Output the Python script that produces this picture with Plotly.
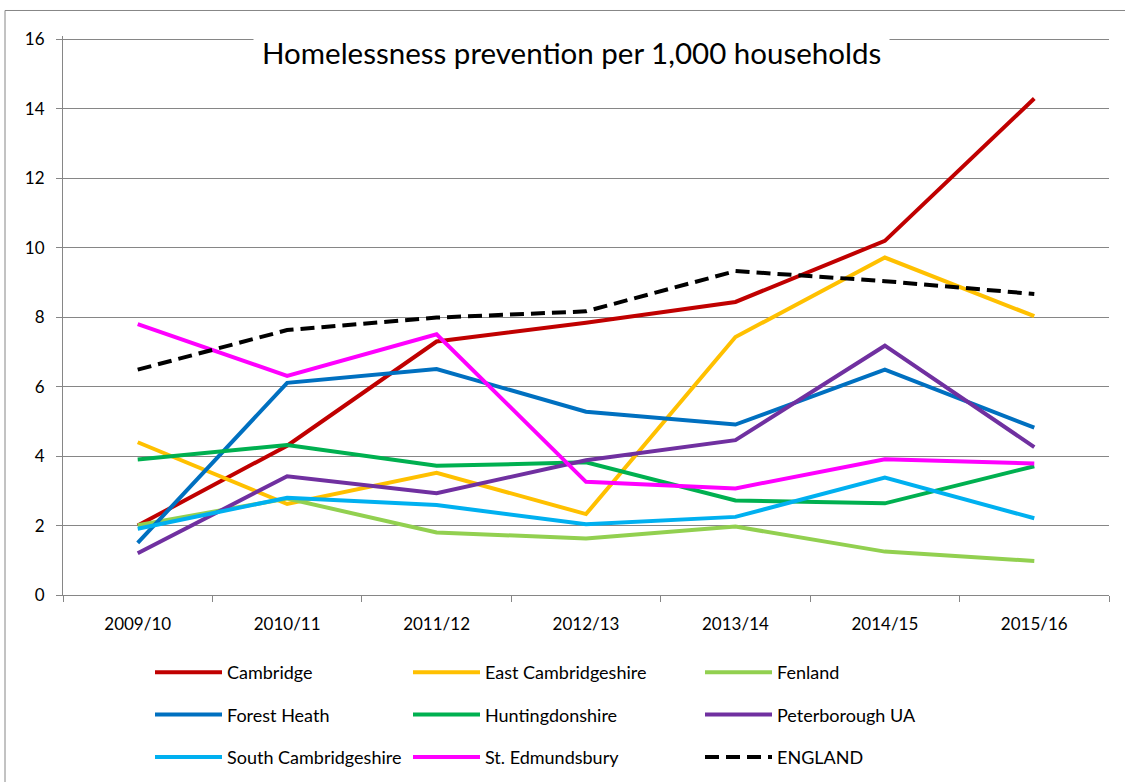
import plotly.graph_objects as go

years = ["2009/10", "2010/11", "2011/12", "2012/13", "2013/14", "2014/15", "2015/16"]

cambridge = [2.0, 4.3, 7.3, 7.84, 8.44, 10.2, 14.3]
east_cambs = [4.4, 2.62, 3.52, 2.33, 7.43, 9.72, 8.03]
fenland = [2.01, 2.78, 1.8, 1.63, 1.97, 1.25, 0.98]
forest_heath = [1.5, 6.11, 6.51, 5.28, 4.91, 6.49, 4.82]
huntingdonshire = [3.9, 4.32, 3.72, 3.82, 2.72, 2.64, 3.71]
peterborough = [1.2, 3.42, 2.93, 3.88, 4.46, 7.18, 4.26]
south_cambs = [1.91, 2.8, 2.59, 2.04, 2.25, 3.38, 2.21]
st_edmundsbury = [7.8, 6.31, 7.51, 3.26, 3.07, 3.91, 3.79]
england = [6.49, 7.63, 7.99, 8.17, 9.33, 9.04, 8.67]

y_ticks = [0, 2, 4, 6, 8, 10, 12, 14, 16]

FONT = "Lato"

series = [
    ("Cambridge", cambridge, "#C00000", "solid", "legend"),
    ("Forest Heath", forest_heath, "#0070C0", "solid", "legend"),
    ("South Cambridgeshire", south_cambs, "#00B0F0", "solid", "legend"),
    ("East Cambridgeshire", east_cambs, "#FFC000", "solid", "legend2"),
    ("Huntingdonshire", huntingdonshire, "#00B050", "solid", "legend2"),
    ("St. Edmundsbury", st_edmundsbury, "#FF00FF", "solid", "legend2"),
    ("Fenland", fenland, "#92D050", "solid", "legend3"),
    ("Peterborough UA", peterborough, "#7030A0", "solid", "legend3"),
    ("ENGLAND", england, "#000000", "14px,7px", "legend3"),
]

draw_order = ["Cambridge", "East Cambridgeshire", "Fenland", "Forest Heath",
              "Huntingdonshire", "Peterborough UA", "South Cambridgeshire",
              "St. Edmundsbury", "ENGLAND"]

fig = go.Figure()
lookup = {s[0]: s for s in series}
names_in_legend_order = [s[0] for s in series]
for name in draw_order:
    n, vals, col, dash, leg = lookup[name]
    fig.add_trace(go.Scatter(
        x=years, y=vals, name=n, mode="lines",
        line=dict(color=col, width=4, dash=dash),
        legend=leg, legendgroup=n,
        legendrank=names_in_legend_order.index(n),
    ))

W, H = 1125, 782
Y_MAX = 16.1
PX_PER_UNIT = (595 - 39) / 16.0
L, R, B = 63, 16, 187
T = 39 - (Y_MAX - 16) * PX_PER_UNIT
pw = W - L - R
ph = H - T - B

def px_x(p):
    return (p - L) / pw

def px_y(p):
    return (H - B - p) / ph

def cx(p):
    return p / W

def cy(p):
    return (H - p) / H

legend_common = dict(
    orientation="v", yanchor="top", xanchor="left",
    xref="container", yref="container",
    font=dict(family=FONT, size=18, color="#000000"),
    bgcolor="rgba(0,0,0,0)", tracegroupgap=16, traceorder="grouped",
    itemwidth=67,
)

fig.update_layout(
    width=W, height=H,
    margin=dict(l=L, r=R, t=T, b=B, autoexpand=False),
    paper_bgcolor="white", plot_bgcolor="white",
    font=dict(family=FONT, size=17, color="#000000"),
    showlegend=True,
    legend=dict(x=cx(150), y=cy(654), **legend_common),
    legend2=dict(x=cx(408), y=cy(654), **legend_common),
    legend3=dict(x=cx(700), y=cy(654), **legend_common),
    xaxis=dict(
        type="category", range=[-0.5, 6.5], automargin=False,
        showline=True, linecolor="#868686", linewidth=1,
        ticks="outside", ticklen=6, tickcolor="#868686", tickson="boundaries",
        showgrid=False, ticklabelstandoff=14,
        tickfont=dict(family=FONT, size=17, color="#000000"),
    ),
    yaxis=dict(
        range=[0, Y_MAX], tickvals=y_ticks, automargin=False,
        showline=True, linecolor="#868686", linewidth=1,
        ticks="outside", ticklen=6, tickcolor="#868686",
        showgrid=True, gridcolor="#868686", gridwidth=1,
        zeroline=False, ticklabelstandoff=8,
        tickfont=dict(family=FONT, size=17, color="#000000"),
    ),
    annotations=[dict(
        text="Homelessness prevention per 1,000 households",
        xref="paper", yref="paper", x=px_x(571), y=px_y(52),
        xanchor="center", yanchor="middle", showarrow=False,
        font=dict(family=FONT, size=29.5, color="#000000"),
        bgcolor="white", borderpad=8,
    )],
    shapes=[dict(
        type="rect", xref="paper", yref="paper",
        x0=px_x(5), x1=px_x(1140), y0=px_y(800), y1=px_y(10),
        line=dict(color="#868686", width=1), fillcolor="rgba(0,0,0,0)",
        layer="above",
    )],
)

fig.write_html("out.html", post_script="document.body.style.margin='0';",
               config={"displayModeBar": False})
